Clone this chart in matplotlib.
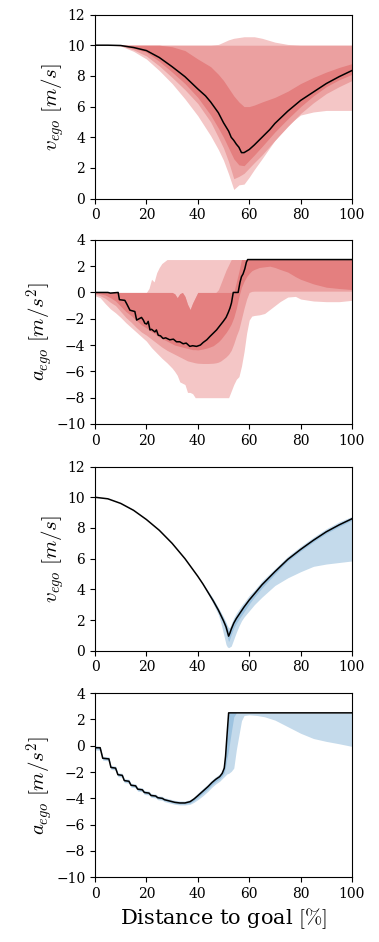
import matplotlib
matplotlib.use("Agg")
import matplotlib.pyplot as plt

plt.rcParams['font.family'] = ['DejaVu Serif']
plt.rcParams['mathtext.fontset'] = 'cm'

# ---------------- panel 1: ego speed, red bands ----------------
x1 = [0, 5, 10, 15, 20, 25, 30, 35, 40, 45, 48, 50, 52, 54, 56, 58, 60, 62, 65, 70, 75, 80, 85, 90, 95, 100]
v1_min = [10, 10, 9.95, 9.6, 9.1, 8.35, 7.5, 6.5, 5.4, 4.1, 3.2, 2.5, 1.6, 0.6, 0.9, 0.95, 1.4, 1.9, 2.6, 3.8, 4.8, 5.45, 5.65, 5.75, 5.75, 5.75]
v1_max = [10, 10, 10, 10, 10, 10, 10, 10, 10, 10, 10.05, 10.2, 10.35, 10.45, 10.5, 10.55, 10.55, 10.55, 10.45, 10.2, 10.05, 10, 10, 10, 10, 10]
v1_p10 = [10, 10, 9.97, 9.7, 9.3, 8.65, 7.9, 7.1, 6.2, 5.0, 4.0, 3.3, 2.4, 1.3, 1.45, 1.65, 2.0, 2.35, 2.85, 3.8, 4.7, 5.55, 6.25, 6.85, 7.3, 7.7]
v1_p90 = [10] * 26
v1_p25 = [10, 10, 9.98, 9.8, 9.55, 8.95, 8.25, 7.5, 6.6, 5.45, 4.6, 4.0, 3.3, 2.6, 2.2, 2.15, 2.5, 2.85, 3.4, 4.35, 5.2, 6.0, 6.7, 7.3, 7.75, 8.1]
v1_p75 = [10, 10, 10, 10, 10, 10, 9.9, 9.65, 9.1, 8.6, 8.1, 7.7, 7.2, 6.7, 6.3, 6.0, 6.0, 6.1, 6.3, 6.6, 7.0, 7.5, 7.9, 8.25, 8.55, 8.8]

x1_med = [0, 5, 10, 13, 15, 20, 25, 30, 35, 40, 43, 45, 48, 50, 52, 53, 54, 55, 56, 57, 58, 59, 60, 62, 65, 68, 70, 75, 80, 85, 90, 95, 100]
v1_med = [10, 10, 9.98, 9.9, 9.85, 9.65, 9.2, 8.6, 7.95, 7.15, 6.7, 6.3, 5.6, 4.95, 4.4, 4.0, 3.8, 3.55, 3.35, 3.0, 3.0, 3.1, 3.2, 3.5, 4.0, 4.5, 4.9, 5.7, 6.4, 6.95, 7.5, 7.95, 8.35]

# ---------------- panel 2: ego acceleration, red bands ----------------
x2 = [0, 2, 4, 6, 8, 10, 12, 14, 16, 18, 20, 21, 22, 23, 24, 25, 26, 28, 30, 31,
      32, 33, 34, 35, 36, 37, 38, 39, 40, 42, 44, 46, 47, 48, 49, 50, 51, 52, 53, 54,
      55, 56, 57, 58, 59, 60, 61, 62, 64, 66, 68, 70, 72, 75, 78, 80, 85, 90, 95, 100]
a2_min = [-0.25, -0.4, -0.85, -1.25, -1.55, -1.9, -2.3, -2.65, -3.0, -3.35, -3.7, -3.95, -4.2, -4.4, -4.6, -4.8, -5.0, -5.35, -5.75, -6.0,
          -6.3, -6.8, -6.9, -7.0, -7.6, -7.6, -7.7, -8.0, -8.0, -8.0, -8.0, -8.0, -8.0, -8.0, -8.0, -8.0, -8.0, -8.0, -7.5, -7.0,
          -6.6, -6.4, -5.6, -4.5, -3.1, -2.1, -1.8, -1.75, -1.7, -1.6, -1.3, -1.0, -0.7, -0.35, -0.3, -0.5, -0.65, -0.7, -0.7, -0.6]
a2_max = [0, 0, 0, 0, 0, 0, 0, 0, 0, 0, 0, 0.3, 1.0, 0.8, 1.5, 1.9, 2.2, 2.5, 2.5, 2.5,
          2.5, 2.5, 2.5, 2.5, 2.5, 2.5, 2.5, 2.5, 2.5, 2.5, 2.5, 2.5, 2.5, 2.5, 2.5, 2.5, 2.5, 2.5, 2.5, 2.5,
          2.5, 2.5, 2.5, 2.5, 2.5, 2.5, 2.5, 2.5, 2.5, 2.5, 2.5, 2.5, 2.5, 2.5, 2.5, 2.5, 2.5, 2.5, 2.5, 2.5]
a2_p10 = [-0.12, -0.25, -0.45, -0.75, -1.0, -1.45, -1.9, -2.25, -2.65, -3.0, -3.25, -3.4, -3.55, -3.7, -3.85, -4.0, -4.15, -4.4, -4.6, -4.7,
          -4.8, -4.9, -5.0, -5.1, -5.2, -5.25, -5.3, -5.35, -5.38, -5.4, -5.4, -5.38, -5.35, -5.3, -5.2, -5.05, -4.9, -4.7, -4.4, -3.9,
          -3.3, -2.8, -2.0, -1.2, -0.5, 0.0, 0.08, 0.1, 0.1, 0.1, 0.1, 0.1, 0.1, 0.1, 0.1, 0.1, 0.1, 0.1, 0.1, 0.1]
a2_p90 = [0, 0, 0, 0, 0, 0, 0, 0, 0, 0, 0, 0, 0, 0, 0, 0, 0, 0, 0, -0.1,
          -0.4, -0.1, 0, -0.3, -0.9, -1.3, -0.8, -0.4, 0, 0, 0, 0, 0, 0.2, 0.7, 1.2, 1.7, 2.1, 2.5, 2.5,
          2.5, 2.5, 2.5, 2.5, 2.5, 2.5, 2.5, 2.5, 2.5, 2.5, 2.5, 2.5, 2.5, 2.5, 2.5, 2.5, 2.5, 2.5, 2.5, 2.5]
a2_p25 = [-0.05, -0.1, -0.2, -0.4, -0.65, -1.05, -1.45, -1.75, -2.1, -2.45, -2.7, -2.85, -3.0, -3.1, -3.25, -3.4, -3.5, -3.7, -3.9, -4.0,
          -4.05, -4.1, -4.15, -4.2, -4.25, -4.3, -4.35, -4.35, -4.37, -4.3, -4.2, -4.05, -3.9, -3.75, -3.55, -3.3, -3.05, -2.75, -2.4, -1.9,
          -1.2, -0.3, 0.4, 0.85, 1.2, 1.45, 1.65, 1.75, 1.9, 1.95, 2.0, 1.9, 1.75, 1.55, 1.2, 1.0, 0.65, 0.4, 0.3, 0.22]
a2_p75 = [0, 0, 0, 0, 0, 0, 0, 0, 0, 0, 0, 0, 0, 0, 0, 0, 0, 0, 0, -0.1,
          -0.4, -0.1, 0, -0.3, -0.9, -1.3, -0.8, -0.4, 0, 0, 0, 0, 0, 0, 0, 0, 0, 0, 0, 0,
          0.8, 1.6, 2.5, 2.5, 2.5, 2.5, 2.5, 2.5, 2.5, 2.5, 2.5, 2.5, 2.5, 2.5, 2.5, 2.5, 2.5, 2.5, 2.5, 2.5]

x2_med = [0, 5, 6, 9, 9.5, 11.6, 12.3, 13.6, 15.5, 16.2, 18.1, 18.8, 19.4, 20.1, 20.7, 21.4, 22.0, 23.3, 23.9, 24.6,
          25.5, 26.5, 27.5, 29.1, 30.5, 31.7, 33, 34.3, 35.5, 36.9, 38, 39.5, 41, 42.1, 43.5, 44.7, 46, 47.3, 48.5, 49.9,
          51, 51.8, 52.5, 53.1, 53.8, 55.7, 56.4, 57, 57.6, 58.3, 58.9, 59.4, 100]
a2_med = [0, 0, -0.05, 0, -0.55, -0.6, -0.85, -1.35, -1.45, -2.1, -1.9, -2.1, -2.35, -2.4, -2.2, -2.85, -2.8, -3.0, -2.85, -3.25,
          -3.3, -3.5, -3.45, -3.6, -3.55, -3.75, -3.75, -3.9, -3.85, -4.1, -4.05, -4.1, -4.0, -3.8, -3.6, -3.35, -3.1, -2.85, -2.55, -2.2,
          -1.9, -1.55, -1.2, -0.8, 0, 0, 0.75, 1.2, 1.4, 1.8, 2.3, 2.5, 2.5]

# ---------------- panel 3: ego speed, blue bands ----------------
x3 = [0, 5, 10, 15, 20, 25, 30, 35, 40, 42, 44, 46, 48, 49, 50, 51, 51.5, 52, 52.5, 53, 54, 55, 56, 57, 58,
      60, 62, 65, 70, 75, 80, 85, 90, 95, 100]
v3_med = [10, 9.9, 9.6, 9.15, 8.55, 7.85, 7.0, 6.0, 4.85, 4.35, 3.8, 3.25, 2.65, 2.3, 1.95, 1.55, 1.25, 0.95, 1.15, 1.4, 1.8, 2.1, 2.35, 2.6, 2.85,
          3.3, 3.7, 4.3, 5.15, 5.95, 6.6, 7.2, 7.75, 8.2, 8.6]
v3_min = [10, 9.9, 9.6, 9.15, 8.55, 7.85, 7.0, 6.0, 4.85, 4.3, 3.7, 3.05, 2.35, 1.8, 1.1, 0.4, 0.25, 0.2, 0.25, 0.3, 0.75, 1.2, 1.6, 1.95, 2.2,
          2.6, 3.0, 3.5, 4.25, 4.75, 5.15, 5.5, 5.65, 5.75, 5.85]
v3_max = [10, 9.9, 9.6, 9.15, 8.55, 7.85, 7.0, 6.0, 4.85, 4.4, 3.9, 3.4, 2.8, 2.5, 2.2, 1.85, 1.65, 1.5, 1.55, 1.75, 2.15, 2.45, 2.7, 2.95, 3.15,
          3.6, 3.95, 4.55, 5.35, 6.15, 6.8, 7.4, 7.95, 8.4, 8.75]
v3_lo = [10, 9.9, 9.6, 9.15, 8.55, 7.85, 7.0, 6.0, 4.85, 4.35, 3.75, 3.15, 2.5, 2.1, 1.75, 1.2, 0.85, 0.6, 0.8, 1.05, 1.5, 1.8, 2.05, 2.3, 2.55,
         3.05, 3.5, 4.1, 5.0, 5.85, 6.5, 7.1, 7.65, 8.1, 8.5]
v3_hi = [10, 9.9, 9.6, 9.15, 8.55, 7.85, 7.0, 6.0, 4.85, 4.35, 3.85, 3.35, 2.75, 2.45, 2.1, 1.75, 1.5, 1.3, 1.4, 1.6, 2.0, 2.3, 2.55, 2.8, 3.0,
         3.45, 3.85, 4.45, 5.25, 6.05, 6.7, 7.3, 7.85, 8.3, 8.7]

# ---------------- panel 4: ego acceleration, blue bands ----------------
x4_med = [0, 2.0, 3.0, 5.4, 6.2, 8.0, 8.9, 10.6, 11.4, 13.2, 14.0, 15.8, 16.6, 18.4, 19.2, 21.0, 21.8, 23.6, 24.4, 26.2,
          27.0, 29, 31, 33, 35, 37, 38.5, 40, 42, 44, 45.5, 47, 48.5, 49.5, 50.3, 50.8, 51.3, 52.0, 60, 70, 80, 90, 100]
a4_med = [-0.15, -0.15, -0.95, -1.0, -1.65, -1.7, -2.2, -2.25, -2.65, -2.7, -3.0, -3.05, -3.3, -3.35, -3.55, -3.6, -3.78, -3.82, -3.95, -4.0,
          -4.1, -4.2, -4.3, -4.35, -4.35, -4.25, -4.05, -3.8, -3.45, -3.1, -2.8, -2.55, -2.35, -2.1, -1.7, -0.8, 0.6, 2.5, 2.5, 2.5, 2.5, 2.5, 2.5]

x4 = [0, 2.0, 3.0, 5.4, 6.2, 8.0, 8.9, 10.6, 11.4, 13.2, 14.0, 15.8, 16.6, 18.4, 19.2, 21.0, 21.8, 23.6, 24.4, 26.2,
      27.0, 29, 31, 33, 35, 37, 38.5, 40, 42, 44, 45.5, 47, 48.5, 49.5, 50.3, 50.8, 51.3,
      52, 53, 54, 55, 56, 57, 58, 60, 63, 66, 70, 75, 80, 85, 90, 95, 100]
a4_min = [-0.32, -0.35, -1.1, -1.15, -1.8, -1.85, -2.35, -2.4, -2.8, -2.85, -3.15, -3.2, -3.45, -3.5, -3.7, -3.75, -3.92, -3.97, -4.1, -4.15,
          -4.25, -4.35, -4.45, -4.5, -4.5, -4.45, -4.3, -4.1, -3.8, -3.45, -3.15, -2.9, -2.7, -2.5, -2.35, -2.25, -2.15,
          -2.1, -1.95, -1.7, -0.3, 0.8, 1.9, 2.3, 2.35, 2.3, 2.2, 1.95, 1.45, 0.95, 0.55, 0.33, 0.15, -0.05]
a4_max = [0.0, -0.05, -0.8, -0.85, -1.5, -1.55, -2.05, -2.1, -2.5, -2.55, -2.85, -2.9, -3.15, -3.2, -3.4, -3.45, -3.63, -3.68, -3.8, -3.85,
          -3.95, -4.05, -4.15, -4.2, -4.2, -4.1, -3.9, -3.6, -3.25, -2.9, -2.6, -2.35, -2.15, -1.85, -1.3, -0.2, 1.2,
          2.5, 2.5, 2.5, 2.5, 2.5, 2.5, 2.5, 2.5, 2.5, 2.5, 2.5, 2.5, 2.5, 2.5, 2.5, 2.5, 2.5]
a4_lo = [-0.22, -0.25, -1.02, -1.07, -1.72, -1.77, -2.27, -2.32, -2.72, -2.77, -3.07, -3.12, -3.37, -3.42, -3.62, -3.67, -3.85, -3.89, -4.02, -4.07,
         -4.17, -4.27, -4.37, -4.42, -4.42, -4.35, -4.17, -3.93, -3.6, -3.27, -2.97, -2.72, -2.52, -2.3, -2.05, -1.6, -1.0,
         -0.3, 1.0, 2.2, 2.5, 2.5, 2.5, 2.5, 2.5, 2.5, 2.5, 2.5, 2.5, 2.5, 2.5, 2.5, 2.5, 2.5]
a4_hi = [-0.08, -0.1, -0.88, -0.93, -1.58, -1.63, -2.13, -2.18, -2.58, -2.63, -2.93, -2.98, -3.23, -3.28, -3.48, -3.53, -3.71, -3.75, -3.88, -3.93,
         -4.03, -4.13, -4.23, -4.28, -4.28, -4.17, -3.97, -3.7, -3.35, -3.0, -2.7, -2.45, -2.25, -2.0, -1.55, -0.6, 0.8,
         2.5, 2.5, 2.5, 2.5, 2.5, 2.5, 2.5, 2.5, 2.5, 2.5, 2.5, 2.5, 2.5, 2.5, 2.5, 2.5, 2.5]

RED = ['#f4c6c6', '#eba0a0', '#e47f7f']
BLUE = ['#c4daeb', '#9dc3e0']

fig = plt.figure(figsize=(3.79, 9.42), dpi=100)
left, width, height = 0.2507, 0.678, 0.1955
bottoms = [0.7891, 0.5499, 0.3092, 0.0687]
axs = [fig.add_axes([left, b, width, height]) for b in bottoms]

ax = axs[0]
ax.fill_between(x1, v1_min, v1_max, color=RED[0], lw=0)
ax.fill_between(x1, v1_p10, v1_p90, color=RED[1], lw=0)
ax.fill_between(x1, v1_p25, v1_p75, color=RED[2], lw=0)
ax.plot(x1_med, v1_med, color='k', lw=1.1)
ax.set_ylim(0, 12)
ax.set_yticks(range(0, 13, 2))
ax.set_ylabel(r'$v_{ego}\ [m/s]$', fontsize=15, labelpad=1)

ax = axs[1]
ax.fill_between(x2, a2_min, a2_max, color=RED[0], lw=0)
ax.fill_between(x2, a2_p10, a2_p90, color=RED[1], lw=0)
ax.fill_between(x2, a2_p25, a2_p75, color=RED[2], lw=0)
ax.plot(x2_med, a2_med, color='k', lw=1.1)
ax.set_ylim(-10, 4)
ax.set_yticks(range(-10, 5, 2))
ax.set_ylabel(r'$a_{ego}\ [m/s^2]$', fontsize=15, labelpad=0.5)

ax = axs[2]
ax.fill_between(x3, v3_min, v3_max, color=BLUE[0], lw=0)
ax.fill_between(x3, v3_lo, v3_hi, color=BLUE[1], lw=0)
ax.plot(x3, v3_med, color='k', lw=1.1)
ax.set_ylim(0, 12)
ax.set_yticks(range(0, 13, 2))
ax.set_ylabel(r'$v_{ego}\ [m/s]$', fontsize=15, labelpad=1)

ax = axs[3]
ax.fill_between(x4, a4_min, a4_max, color=BLUE[0], lw=0)
ax.fill_between(x4, a4_lo, a4_hi, color=BLUE[1], lw=0)
ax.plot(x4_med, a4_med, color='k', lw=1.1)
ax.set_ylim(-10, 4)
ax.set_yticks(range(-10, 5, 2))
ax.set_ylabel(r'$a_{ego}\ [m/s^2]$', fontsize=15, labelpad=0.5)
ax.set_xlabel(r'Distance to goal $[\%]$', fontsize=15)

for ax in axs:
    ax.set_xlim(0, 100)
    ax.set_xticks(range(0, 101, 20))
    ax.tick_params(labelsize=10)

fig.savefig('out.png', dpi=100)
